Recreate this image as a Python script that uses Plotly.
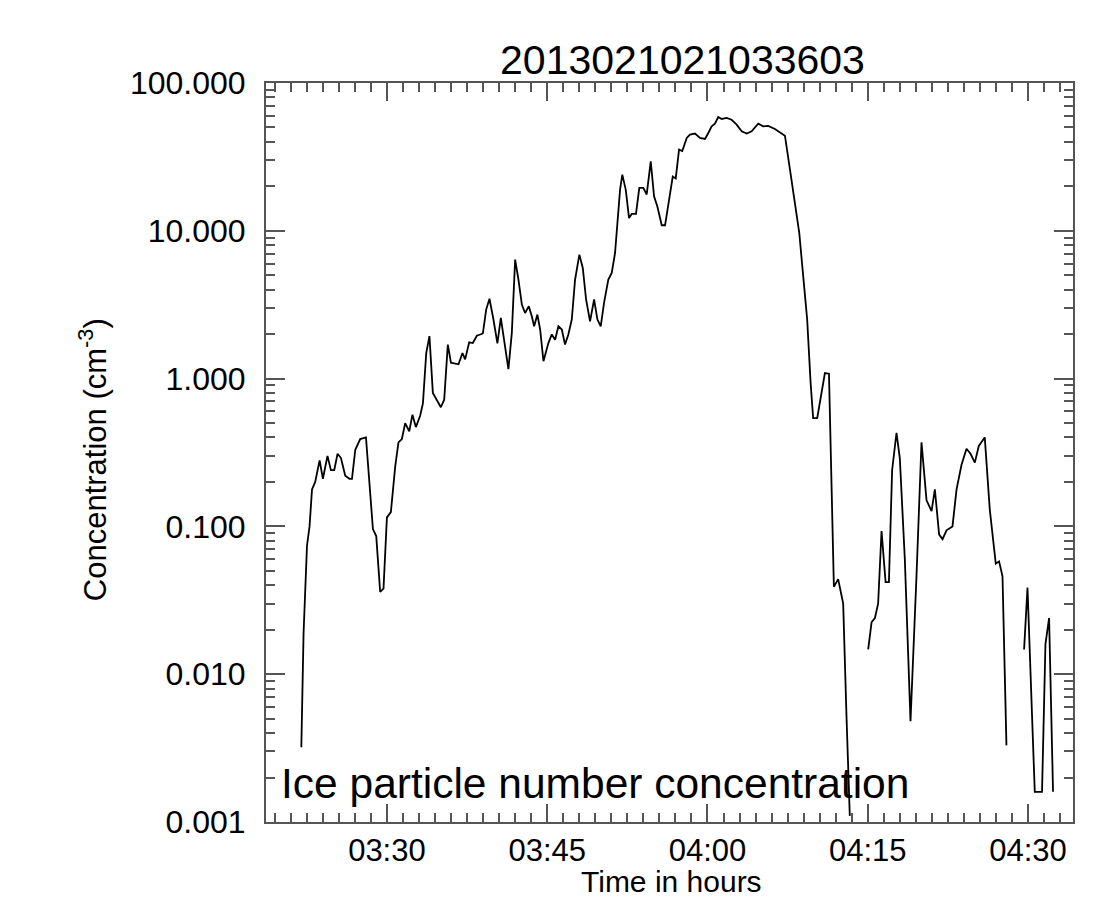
import pandas as pd
import plotly.graph_objects as go

# Time in minutes after 03:00 UTC and concentration (cm^-3), three separate segments
seg1_min = [21.99, 22.20, 22.52, 22.76, 22.99, 23.29, 23.70, 24.01, 24.44, 24.76, 25.07, 25.38,
            25.70, 26.10, 26.50, 26.73, 27.04, 27.50, 28.04, 28.44, 28.69, 29.00, 29.37, 29.68,
            30.00, 30.37, 30.78, 31.08, 31.40, 31.71, 32.09, 32.39, 32.71, 33.11, 33.37, 33.68,
            33.98, 34.30, 34.68, 35.05, 35.36, 35.70, 35.99, 36.70, 37.07, 37.32, 37.70, 38.04,
            38.42, 38.98, 39.29, 39.60, 39.97, 40.34, 40.66, 41.00, 41.37, 41.69, 42.00, 42.31,
            42.63, 42.93, 43.28, 43.56, 43.78, 44.08, 44.34, 44.65, 45.11, 45.43, 45.74, 46.05,
            46.37, 46.67, 46.98, 47.30, 47.61, 48.01, 48.33, 48.64, 49.01, 49.39, 49.70, 50.01,
            50.32, 50.72, 51.04, 51.35, 51.57, 51.82, 52.03, 52.35, 52.66, 52.91, 53.31, 53.62,
            54.00, 54.31, 54.69, 55.00, 55.31, 55.72, 56.03, 56.43, 56.75, 57.03, 57.34, 57.64,
            58.06, 58.36, 58.83, 59.30, 59.77, 60.08, 60.39, 60.70, 61.01, 61.33, 61.80, 62.26,
            62.73, 63.20, 63.67, 64.13, 64.75, 65.22, 65.69, 66.31, 66.78, 67.25, 67.72, 68.18,
            68.59, 68.96, 69.33, 69.65, 69.89, 70.27, 70.68, 70.99, 71.37, 71.83, 72.23, 72.70,
            73.01, 73.32]
seg1_val = [0.0032, 0.019, 0.074, 0.10, 0.178, 0.20, 0.28, 0.21, 0.30, 0.24, 0.24, 0.31,
            0.29, 0.22, 0.21, 0.21, 0.33, 0.39, 0.40, 0.15, 0.096, 0.086, 0.036, 0.038,
            0.115, 0.125, 0.256, 0.37, 0.39, 0.50, 0.44, 0.57, 0.47, 0.56, 0.68, 1.49,
            1.94, 0.80, 0.72, 0.64, 0.72, 1.70, 1.28, 1.25, 1.49, 1.35, 1.76, 1.74,
            1.95, 2.02, 2.93, 3.47, 2.51, 1.73, 2.58, 1.74, 1.16, 2.04, 6.38, 4.68,
            3.17, 2.78, 3.09, 2.64, 2.26, 2.71, 2.15, 1.31, 1.74, 1.99, 1.83, 2.26,
            2.15, 1.70, 1.99, 2.51, 4.68, 6.9, 5.6, 3.43, 2.44, 3.43, 2.51, 2.26,
            3.25, 4.68, 5.19, 7.08, 11.9, 19.0, 24.0, 19.0, 12.2, 13.0, 13.0, 19.5,
            19.5, 17.6, 29.5, 17.1, 14.6, 10.9, 10.9, 16.3, 23.3, 22.6, 35.4, 34.6,
            42.5, 44.7, 45.5, 42.5, 41.8, 45.9, 50.9, 53.1, 58.9, 57.1, 58.0, 56.4,
            52.3, 47.1, 45.5, 47.1, 53.1, 50.9, 51.3, 48.9, 46.4, 44.0, 25.9, 15.5,
            9.7, 4.92, 2.51, 0.94, 0.54, 0.54, 0.84, 1.09, 1.08, 0.039, 0.044, 0.030,
            0.0052, 0.0011]

seg2_min = [75.04, 75.36, 75.67, 75.97, 76.29, 76.67, 76.98, 77.28, 77.69, 78.00, 78.47, 79.00,
            79.56, 80.03, 80.50, 80.97, 81.28, 81.68, 82.00, 82.37, 82.93, 83.31, 83.77, 84.24,
            84.62, 85.02, 85.39, 85.95, 86.42, 86.98, 87.29, 87.61, 87.98]
seg2_val = [0.0147, 0.0225, 0.024, 0.030, 0.093, 0.042, 0.042, 0.24, 0.43, 0.29, 0.060, 0.0048,
            0.046, 0.37, 0.15, 0.127, 0.178, 0.088, 0.082, 0.094, 0.10, 0.178, 0.26, 0.335,
            0.31, 0.27, 0.35, 0.40, 0.13, 0.056, 0.058, 0.046, 0.0033]

seg3_min = [89.63, 89.95, 90.63, 91.31, 91.63, 91.97, 92.34]
seg3_val = [0.0147, 0.0385, 0.0016, 0.0016, 0.016, 0.024, 0.0016]

y_tickvals = [0.001, 0.01, 0.1, 1, 10, 100]
y_ticktext = ["0.001", "0.010", "0.100", "1.000", "10.000", "100.000"]

base = pd.Timestamp("2013-02-10 03:00:00")


def to_time(mins):
    return [base + pd.to_timedelta(m, unit="m") for m in mins]


xs, ys = [], []
for mins, vals in [(seg1_min, seg1_val), (seg2_min, seg2_val), (seg3_min, seg3_val)]:
    xs += to_time(mins) + [None]
    ys += vals + [None]

fig = go.Figure()
fig.add_trace(go.Scatter(x=xs, y=ys, mode="lines", connectgaps=False,
                         line=dict(color="black", width=1.8), showlegend=False))

axis_col = "#555555"
font_fam = "Liberation Sans, Arial, sans-serif"

minor_y = [m * 10 ** e for e in range(-3, 2) for m in range(2, 10)]

fig.update_layout(
    width=1117, height=904,
    margin=dict(l=266, r=44, t=83, b=82),
    paper_bgcolor="white", plot_bgcolor="white",
    font=dict(family=font_fam, color="black"),
    title=dict(text="2013021021033603", x=0.611, xanchor="center", y=0.934, yanchor="middle",
               font=dict(size=41, family=font_fam, color="black")),
)

fig.update_xaxes(
    type="date",
    range=[base + pd.to_timedelta(18.684, unit="m"), base + pd.to_timedelta(94.208, unit="m")],
    tick0="2013-02-10 03:30:00", dtick=15 * 60 * 1000, tickformat="%H:%M",
    ticks="inside", ticklen=18, tickwidth=2, tickcolor=axis_col,
    minor=dict(ticks="inside", ticklen=9, tickwidth=2, tickcolor=axis_col,
               dtick=90 * 1000, tick0="2013-02-10 03:30:00", showgrid=False),
    showline=True, linecolor=axis_col, linewidth=2, mirror="ticks",
    showgrid=False, zeroline=False,
    tickfont=dict(size=31, family=font_fam, color="black"),
)
fig.update_yaxes(
    type="log", range=[-3, 2],
    tickvals=y_tickvals, ticktext=y_ticktext,
    ticks="inside", ticklen=19, tickwidth=2, tickcolor=axis_col,
    minor=dict(ticks="inside", ticklen=9, tickwidth=2, tickcolor=axis_col,
               tickvals=minor_y, showgrid=False),
    showline=True, linecolor=axis_col, linewidth=2, mirror="ticks",
    showgrid=False, zeroline=False, ticklabelstandoff=12,
    tickfont=dict(size=32, family=font_fam, color="black"),
)

fig.add_annotation(text="Concentration (cm<sup>-3</sup>)", xref="paper", yref="paper",
                   x=-0.214, y=0.49, xanchor="center", yanchor="middle", textangle=-90,
                   showarrow=False, font=dict(size=31, family=font_fam, color="black"))
fig.add_annotation(text="Time in hours", xref="paper", yref="paper",
                   x=0.503, y=-0.08, xanchor="center", yanchor="middle",
                   showarrow=False, font=dict(size=30, family=font_fam, color="black"))
fig.add_annotation(text="Ice particle number concentration", xref="paper", yref="paper",
                   x=0.0155, y=0.052, xanchor="left", yanchor="middle",
                   showarrow=False, font=dict(size=42.5, family=font_fam, color="black"))

fig.write_html("out.html")
